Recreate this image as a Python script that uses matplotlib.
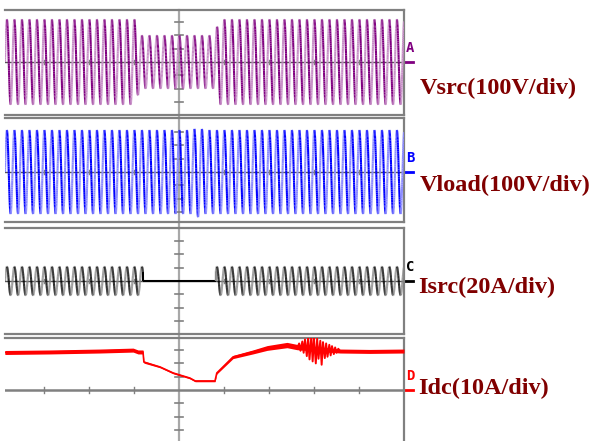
import numpy as np
import matplotlib
matplotlib.use('Agg')
from matplotlib import pyplot as plt
from matplotlib.collections import LineCollection
from matplotlib.lines import Line2D

### data (x in time divisions, y in vertical divisions)
cycles_per_div = 6.0

vsrc_env_t = [-3.87, -0.98, -0.86, 0.80, 0.88, 5.0]
vsrc_env_a = [3.2, 3.2, 2.0, 2.0, 3.2, 3.2]

vload_env_t = [-3.87, 0.30, 0.42, 0.55, 5.0]
vload_env_a = [3.15, 3.15, 3.4, 3.15, 3.15]

isrc_env_t = [-3.87, -0.80, -0.80, 0.82, 0.82, 5.0]
isrc_env_a = [1.08, 1.08, 0.0, 0.0, 1.08, 1.08]

idc_t = [-3.87, -2.87, -1.76, -1.02, -0.91, -0.80, -0.78, -0.42, -0.13, 0.24, 0.36,
         0.80, 0.84, 1.20, 1.64, 1.96, 2.40, 2.62, 3.58, 4.24, 5.0]
idc_y = [2.82, 2.86, 2.93, 3.0, 2.86, 2.86, 2.10, 1.73, 1.28, 0.90, 0.68,
         0.68, 1.28, 2.48, 2.86, 3.16, 3.38, 3.23, 2.93, 2.90, 2.93]
idc_noise = [0.15, 0.15, 0.15, 0.15, 0.15, 0.15, 0.08, 0.06, 0.06, 0.06, 0.06,
             0.06, 0.08, 0.12, 0.15, 0.18, 0.2, 0.2, 0.15, 0.15, 0.15]

burst_t = [2.64, 2.67, 2.70, 2.74, 2.77, 2.80, 2.84, 2.87, 2.90, 2.94, 2.97, 3.00, 3.04, 3.07, 3.10,
           3.14, 3.17, 3.20, 3.24, 3.27, 3.30, 3.34, 3.37, 3.40, 3.44, 3.47, 3.50, 3.54, 3.58]
burst_y = [3.25, 3.50, 2.95, 3.65, 2.80, 3.80, 2.55, 3.95, 2.30, 4.00, 2.15, 3.90, 2.00, 3.85, 2.35,
           3.70, 1.90, 3.60, 2.40, 3.50, 2.50, 3.40, 2.60, 3.30, 2.70, 3.20, 2.80, 3.10, 2.93]

labels = ['Vsrc(100V/div)', 'Vload(100V/div)', 'Isrc(20A/div)', 'Idc(10A/div)']
markers = ['A', 'B', 'C', 'D']

### layout (pixels)
W, H = 590, 441
DX, DY = 45.0, 13.3
X0, LEFT, RIGHT = 179, 5, 404
p_top = [10, 118, 228, 338]
p_mid = [62, 172, 281, 390]
p_bot = [115, 222, 334, 441]
lab_pos = [(420, 88), (420, 185), (418, 287), (418, 388)]
dark = ['#800080', '#0000ff', '#000000', '#ff0000']
light = ['#c890c8', '#8c8cff', '#8a8a8a', '#ff0000']

xmin, xmax = (LEFT - X0) / DX, (RIGHT - X0) / DX

fig = plt.figure(figsize=(W / 100, H / 100), dpi=100)
fig.add_artist(Line2D([X0 / W, X0 / W], [0, 1 - p_top[0] / H], color='#a8a8a8', lw=1.6, zorder=-1))

axes = []
for i in range(4):
    ax = fig.add_axes([LEFT / W, 1 - p_bot[i] / H, (RIGHT - LEFT) / W, (p_bot[i] - p_top[i]) / H])
    ax.set_facecolor('none')
    ax.set_xlim(xmin, xmax)
    ax.set_ylim(-(p_bot[i] - p_mid[i]) / DY, (p_mid[i] - p_top[i]) / DY)
    ax.set_xticks([]); ax.set_yticks([])
    ax.spines['left'].set_visible(False)
    for s in ['top', 'bottom', 'right']:
        ax.spines[s].set_color('#808080')
        ax.spines[s].set_linewidth(1.6)
    if i == 3:
        ax.spines['bottom'].set_visible(False)
    # centre line + ticks
    ax.axhline(0, color='#555555' if i < 3 else '#808080', lw=1.0 if i < 3 else 1.8, zorder=1)
    for k in [-3, -2, -1, 1, 2, 3]:
        ax.plot([-0.09, 0.09], [k, k], color='#808080', lw=1.2, zorder=1)
    th = 0.12 if i < 3 else 0.25
    for k in [-3, -2, -1, 1, 2, 3, 4]:
        ax.plot([k, k], [-th, th], color='#808080', lw=1.0, zorder=1)
    # channel marker
    ax.plot([xmax, xmax + 0.21], [0, 0], color=dark[i], lw=2, clip_on=False)
    ax.text(xmax + 0.05, 0.5, markers[i], color=dark[i], fontsize=10, fontweight='bold',
            family='DejaVu Sans Mono', va='bottom', ha='left', clip_on=False)
    axes.append(ax)

t = np.linspace(xmin, xmax, 6000)
for i, (et, ea) in enumerate([(vsrc_env_t, vsrc_env_a), (vload_env_t, vload_env_a), (isrc_env_t, isrc_env_a)]):
    env = np.interp(t, et, ea)
    y = env * np.sin(2 * np.pi * cycles_per_div * (t - xmin))
    pts = np.column_stack([t, y])
    segs = np.stack([pts[:-1], pts[1:]], axis=1)
    dy = np.diff(y)
    cols = [light[i] if d > 1e-9 else dark[i] for d in dy]
    axes[i].add_collection(LineCollection(segs, colors=cols, linewidths=1.5, zorder=3))

ax = axes[3]
it = np.array(idc_t); iy = np.array(idc_y); nz = np.array(idc_noise)
ax.fill_between(it, iy - nz, iy + nz, color='#ff0000', lw=0, zorder=3)
ax.plot(it, iy, color='#ff0000', lw=1.2, zorder=3)
ax.plot(burst_t, burst_y, color='#ff0000', lw=1.4, zorder=3)

for i in range(4):
    fig.text(lab_pos[i][0] / W, 1 - lab_pos[i][1] / H, labels[i], color='#800000', fontsize=17.5,
             fontweight='bold', family='Liberation Serif', va='center', ha='left')

plt.savefig('out.png', dpi=100)
